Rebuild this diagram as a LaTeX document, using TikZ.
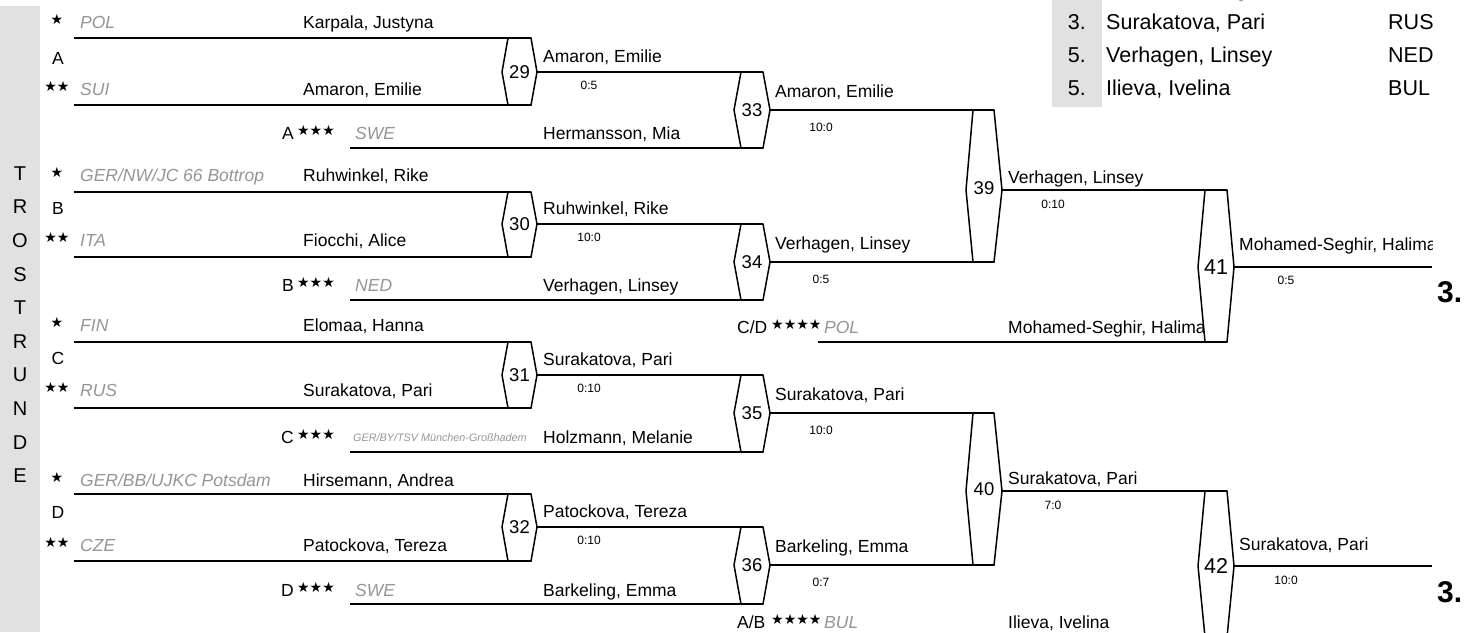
\documentclass[tikz,border=0pt]{standalone}
\usepackage{fontspec}
\setmainfont{Liberation Sans}
\newfontfamily\symf{DejaVu Sans}
\newcommand\myfs[1]{\fontsize{#1}{#1}\selectfont}
\definecolor{cgray}{HTML}{959595}
\definecolor{bgg}{HTML}{E1E1E1}
\tikzset{
 ln/.style={line width=1.7pt},
 hexl/.style={line width=1.5pt, line join=miter},
 nm/.style={font=\myfs{17.5}, anchor=base west, inner sep=0pt, yshift=-6.3pt},
 cty/.style={nm, font=\myfs{17.5}\itshape, text=cgray},
 ctys/.style={font=\myfs{10.8}\itshape, text=cgray, anchor=base west, inner sep=0pt, yshift=-3.9pt},
 pool/.style={font=\myfs{17.5}, anchor=base, inner sep=0pt, yshift=-6.3pt},
 poolr/.style={font=\myfs{17.5}, anchor=base east, inner sep=0pt, yshift=-6.3pt},
 poolw/.style={font=\myfs{17.5}, anchor=base west, inner sep=0pt, yshift=-6.3pt},
 stars/.style={font=\symf\myfs{14}, inner sep=0pt},
 score/.style={font=\myfs{12}, anchor=base, inner sep=0pt, yshift=-4.3pt},
 bnum/.style={font=\myfs{18.5}, anchor=base, inner sep=0pt, yshift=-6.6pt},
 bnumL/.style={font=\myfs{21.5}, anchor=base, inner sep=0pt, yshift=-7.7pt},
 vlet/.style={font=\myfs{20}, anchor=base, inner sep=0pt, yshift=-7.2pt},
 leg/.style={font=\myfs{21.5}, anchor=base west, inner sep=0pt, yshift=-7.7pt},
 legn/.style={leg, anchor=base east},
 place/.style={font=\bfseries\myfs{30}, anchor=base west, inner sep=0pt, yshift=-10.7pt},
}
% hexagon coordinates: name, xa, xb, xc, xd, top, bottom, vertex y
\newcommand\hexc[8]{%
 \coordinate (#1-tl) at (#3,#6); \coordinate (#1-tr) at (#4,#6);
 \coordinate (#1-r) at (#5,#8); \coordinate (#1-br) at (#4,#7);
 \coordinate (#1-bl) at (#3,#7); \coordinate (#1-l) at (#2,#8);}
\newcommand\hexd[1]{\draw[hexl] (#1-tl) -- (#1-tr) -- (#1-r) -- (#1-br) -- (#1-bl) -- (#1-l) -- cycle;}
\begin{document}
\begin{tikzpicture}[x=1pt,y=-1pt]
\useasboundingbox (0,0) rectangle (1474,632);
\clip (0,0) rectangle (1474,632);
% grey bars
\fill[bgg] (0,6) rectangle (40,632);
\fill[bgg] (1052,0) rectangle (1102,107);
% vertical title
\foreach \L [count=\i from 0] in {T,R,O,S,T,R,U,N,D,E}
  \node[vlet] (v\i) at (20,173+33.6*\i) {\L};
% legend
\node[legn] (lg0n) at (1086,-11) {3.};
\node[leg] (lg0a) at (1106,-11) {Mohamed-Seghir, Halima};
\node[leg] (lg0c) at (1388,-11) {POL};
\node[legn] (lg1n) at (1086,22) {3.};
\node[leg] (lg1a) at (1106,22) {Surakatova, Pari};
\node[leg] (lg1c) at (1388,22) {RUS};
\node[legn] (lg2n) at (1086,55) {5.};
\node[leg] (lg2a) at (1106,55) {Verhagen, Linsey};
\node[leg] (lg2c) at (1388,55) {NED};
\node[legn] (lg3n) at (1086,88) {5.};
\node[leg] (lg3a) at (1106,88) {Ilieva, Ivelina};
\node[leg] (lg3c) at (1388,88) {BUL};
% box geometry
\hexc{b29}{502}{508}{531}{537}{38}{105}{72}
\hexc{b30}{502}{508}{531}{537}{192}{257}{224}
\hexc{b31}{502}{508}{531}{537}{342}{408}{375}
\hexc{b32}{502}{508}{531}{537}{494}{561}{527}
\hexc{b33}{734}{741}{763}{770}{72}{148}{110}
\hexc{b34}{734}{741}{763}{770}{224}{300}{262}
\hexc{b35}{734}{741}{763}{770}{375}{452}{413}
\hexc{b36}{734}{741}{763}{770}{527}{604}{565}
\hexc{b39}{966}{973}{994}{1002}{110}{262}{190}
\hexc{b40}{966}{973}{994}{1002}{413}{565}{491}
\hexc{b41}{1198}{1205}{1227}{1234}{190}{342}{267}
\hexc{b42}{1198}{1205}{1227}{1234}{491}{637}{566}
% line start points
\coordinate (pA1) at (74,38);  \coordinate (pA2) at (74,105);
\coordinate (pB1) at (74,192); \coordinate (pB2) at (74,257);
\coordinate (pC1) at (74,342); \coordinate (pC2) at (74,408);
\coordinate (pD1) at (74,494); \coordinate (pD2) at (74,561);
\coordinate (pA3) at (350,148); \coordinate (pB3) at (350,300);
\coordinate (pC3) at (350,452); \coordinate (pD3) at (350,604);
\coordinate (pCD) at (818,342); \coordinate (pAB) at (818,637);
\coordinate (e41) at (1432,267); \coordinate (e42) at (1432,566);
% lines
\draw[ln] (pA1) -- (b29-tr); \draw[ln] (pA2) -- (b29-br);
\draw[ln] (pB1) -- (b30-tr); \draw[ln] (pB2) -- (b30-br);
\draw[ln] (pC1) -- (b31-tr); \draw[ln] (pC2) -- (b31-br);
\draw[ln] (pD1) -- (b32-tr); \draw[ln] (pD2) -- (b32-br);
\draw[ln] (pA3) -- (b33-br); \draw[ln] (pB3) -- (b34-br);
\draw[ln] (pC3) -- (b35-br); \draw[ln] (pD3) -- (b36-br);
\draw[ln] (b29-r) -- (b33-tr); \draw[ln] (b30-r) -- (b34-tr);
\draw[ln] (b31-r) -- (b35-tr); \draw[ln] (b32-r) -- (b36-tr);
\draw[ln] (b33-r) -- (b39-tr); \draw[ln] (b34-r) -- (b39-br);
\draw[ln] (b35-r) -- (b40-tr); \draw[ln] (b36-r) -- (b40-br);
\draw[ln] (b39-r) -- (b41-tr); \draw[ln] (b40-r) -- (b42-tr);
\draw[ln] (pCD) -- (b41-br); \draw[ln] (pAB) -- (b42-br);
\draw[ln] (b41-r) -- (e41); \draw[ln] (b42-r) -- (e42);
% boxes
\foreach \b in {29,30,31,32,33,34,35,36,39,40,41,42} {\hexd{b\b}}
\node[bnum] (n29) at (519.5,72) {29};
\node[bnum] (n30) at (519.5,224) {30};
\node[bnum] (n31) at (519.5,375) {31};
\node[bnum] (n32) at (519.5,527) {32};
\node[bnum] (n33) at (752,110) {33};
\node[bnum] (n34) at (752,262) {34};
\node[bnum] (n35) at (752,413) {35};
\node[bnum] (n36) at (752,565) {36};
\node[bnum] (n39) at (984,188) {39};
\node[bnum] (n40) at (984,489) {40};
\node[bnumL] (n41) at (1216,267) {41};
\node[bnumL] (n42) at (1216,566) {42};
% pool A
\node[stars] (sA1) at (57,19) {★};
\node[cty] (cA1) at (80,22) {POL};
\node[nm] (nA1) at (303,22) {Karpala, Justyna};
\node[pool] (pA) at (58,58) {A};
\node[stars] (sA2) at (57,86) {★★};
\node[cty] (cA2) at (80,89) {SUI};
\node[nm] (nA2) at (303,89) {Amaron, Emilie};
\node[poolr] (qA3) at (294,133) {A};
\node[stars,anchor=west] (sA3) at (297,130) {★★★};
\node[cty] (cA3) at (355,133) {SWE};
\node[nm] (nA3) at (543,133) {Hermansson, Mia};
% pool B
\node[stars] (sB1) at (57,172) {★};
\node[cty] (cB1) at (80,175) {GER/NW/JC 66 Bottrop};
\node[nm] (nB1) at (303,175) {Ruhwinkel, Rike};
\node[pool] (pB) at (58,208) {B};
\node[stars] (sB2) at (57,237) {★★};
\node[cty] (cB2) at (80,240) {ITA};
\node[nm] (nB2) at (303,240) {Fiocchi, Alice};
\node[poolr] (qB3) at (294,285) {B};
\node[stars,anchor=west] (sB3) at (297,282) {★★★};
\node[cty] (cB3) at (355,285) {NED};
\node[nm] (nB3) at (543,285) {Verhagen, Linsey};
% pool C
\node[stars] (sC1) at (57,322) {★};
\node[cty] (cC1) at (80,325) {FIN};
\node[nm] (nC1) at (303,325) {Elomaa, Hanna};
\node[pool] (pC) at (58,358) {C};
\node[stars] (sC2) at (57,387) {★★};
\node[cty] (cC2) at (80,390) {RUS};
\node[nm] (nC2) at (303,390) {Surakatova, Pari};
\node[poolr] (qC3) at (294,437) {C};
\node[stars,anchor=west] (sC3) at (297,434) {★★★};
\node[ctys] (cC3) at (353,438) {GER/BY/TSV München-Großhadem};
\node[nm] (nC3) at (543,437) {Holzmann, Melanie};
% pool D
\node[stars] (sD1) at (57,477) {★};
\node[cty] (cD1) at (80,480) {GER/BB/UJKC Potsdam};
\node[nm] (nD1) at (303,480) {Hirsemann, Andrea};
\node[pool] (pD) at (58,512) {D};
\node[stars] (sD2) at (57,542) {★★};
\node[cty] (cD2) at (80,545) {CZE};
\node[nm] (nD2) at (303,545) {Patockova, Tereza};
\node[poolr] (qD3) at (294,590) {D};
\node[stars,anchor=west] (sD3) at (297,587) {★★★};
\node[cty] (cD3) at (355,590) {SWE};
\node[nm] (nD3) at (543,590) {Barkeling, Emma};
% repechage entries
\node[poolw] (qCD) at (737,327) {C/D};
\node[stars,anchor=west] (sCD) at (771,324) {★★★★};
\node[cty] (cCD) at (824,327) {POL};
\begin{scope}
\clip (1000,300) rectangle (1203,340);
\node[nm] (nCD) at (1008,327) {Mohamed-Seghir, Halima};
\end{scope}
\node[poolw] (qAB) at (737,622) {A/B};
\node[stars,anchor=west] (sAB) at (771,619) {★★★★};
\node[cty] (cAB) at (824,622) {BUL};
\node[nm] (nAB) at (1008,622) {Ilieva, Ivelina};
% winners and scores
\node[nm] (w29) at (543,56) {Amaron, Emilie};
\node[nm] (w30) at (543,208) {Ruhwinkel, Rike};
\node[nm] (w31) at (543,359) {Surakatova, Pari};
\node[nm] (w32) at (543,511) {Patockova, Tereza};
\node[score] (s29) at (589,85) {0:5};
\node[score] (s30) at (589,237) {10:0};
\node[score] (s31) at (589,388) {0:10};
\node[score] (s32) at (589,540) {0:10};
\node[nm] (w33) at (775,91) {Amaron, Emilie};
\node[nm] (w34) at (775,243) {Verhagen, Linsey};
\node[nm] (w35) at (775,394) {Surakatova, Pari};
\node[nm] (w36) at (775,546) {Barkeling, Emma};
\node[score] (s33) at (821,127) {10:0};
\node[score] (s34) at (821,279) {0:5};
\node[score] (s35) at (821,430) {10:0};
\node[score] (s36) at (821,582) {0:7};
\node[nm] (w39) at (1008,177) {Verhagen, Linsey};
\node[nm] (w40) at (1008,478) {Surakatova, Pari};
\node[score] (s39) at (1053,204) {0:10};
\node[score] (s40) at (1053,505) {7:0};
\begin{scope}
\clip (1236,220) rectangle (1432,262);
\node[nm] (w41) at (1239,244) {Mohamed-Seghir, Halima};
\end{scope}
\node[nm] (w42) at (1239,544) {Surakatova, Pari};
\node[score] (s41) at (1286,280) {0:5};
\node[score] (s42) at (1286,580) {10:0};
\node[place] (r41) at (1437,292) {3.};
\node[place] (r42) at (1437,592) {3.};
\end{tikzpicture}
\end{document}
